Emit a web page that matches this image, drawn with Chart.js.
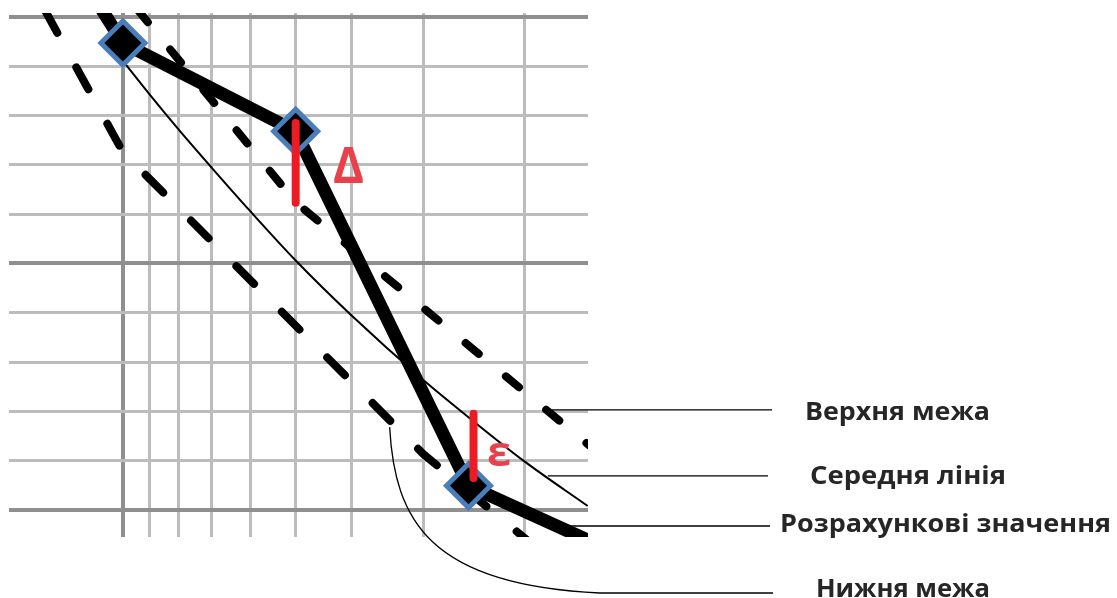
<!DOCTYPE html>
<html lang="uk">
<head>
<meta charset="UTF-8">
<title>Межі та розрахункові значення</title>
<script src="https://cdn.jsdelivr.net/npm/chart.js"></script>
<style>
    body { margin: 0; background: #fff; }
    canvas { display: block; }
</style>
</head>
<body>
<canvas id="chart" width="1117" height="598"></canvas>
<script>
// grid ticks (x axis is a reversed log scale)
const xTicks = [10, 9, 8, 7, 6, 5, 4, 3, 2];
const xMajor = [10];
const yTicks = [0, 1, 2, 3, 4, 5, 6, 7, 8, 9, 10];
const yMajor = [0, 5, 10];

// Розрахункові значення
const calcX = [11.44, 10, 5, 2.5, 1.36];
const calcY = [10.55, 9.47, 7.68, 0.49, -0.91];
const calcRadius = [0, 22, 22, 22, 0];

// Середня лінія
const midX = [10, 9, 8, 7, 6, 5, 4, 3, 2.5, 2, 1.55];
const midY = [9.11, 8.44, 7.72, 6.94, 6.06, 5.06, 3.95, 2.64, 1.88, 0.99, 0.08];

// Верхня межа
const upperX = [10, 5, 1.4];
const upperY = [10.51, 6.24, 0.91];

// Нижня межа
const lowerX = [15, 10, 3, 1.4];
const lowerY = [10.99, 7.26, 1.14, -2.06];

// deviations
const deltaX = [5, 5];
const deltaY = [7.85, 6.23];
const epsX = [2.45, 2.45];
const epsY = [1.95, 0.65];

const labelTexts = ['Верхня межа', 'Середня лінія', 'Розрахункові значення', 'Нижня межа'];
// where each leader line starts (data units)
const leaderX = [1.789, 1.818, 1.665, 3.43];
const leaderY = [2.03, 0.69, -0.325, 1.68];

function pts(xs, ys) {
    return xs.map((x, i) => ({ x: x, y: ys[i] }));
}

const RED = '#ed1c24';
const TEXT_RED = '#e8414a';

const annotations = {
    id: 'annotations',
    afterDraw(chart) {
        const ctx = chart.ctx;
        const xs = chart.scales.x, ys = chart.scales.y;
        const ends = [772, 768, 770, 773];
        const boxes = [
            { x: 805, base: 420, w: 185 },
            { x: 810, base: 484, w: 196 },
            { x: 780, base: 532, w: 331 },
            { x: 816, base: 597, w: 174 }
        ];
        ctx.save();
        ctx.strokeStyle = '#000';
        ctx.lineWidth = 1.3;
        for (let i = 0; i < 3; i++) {
            const px = xs.getPixelForValue(leaderX[i]);
            const py = ys.getPixelForValue(leaderY[i]);
            ctx.beginPath();
            ctx.moveTo(px, py);
            ctx.lineTo(ends[i], py);
            ctx.stroke();
        }
        // lower bound leader is a curve
        const lx = xs.getPixelForValue(leaderX[3]);
        const ly = ys.getPixelForValue(leaderY[3]);
        ctx.beginPath();
        ctx.moveTo(lx, ly);
        ctx.bezierCurveTo(lx + 5, ly + 93, lx + 40, ly + 158, lx + 210, 593);
        ctx.lineTo(ends[3], 593);
        ctx.stroke();

        ctx.fillStyle = '#262626';
        ctx.font = 'bold 25px "Open Sans", "Noto Sans", sans-serif';
        ctx.textBaseline = 'alphabetic';
        labelTexts.forEach((t, i) => {
            const b = boxes[i];
            const m = ctx.measureText(t).width;
            ctx.save();
            ctx.translate(b.x, b.base);
            ctx.scale(b.w / m, 1);
            ctx.fillText(t, 0, 0);
            ctx.restore();
        });

        // Δ and ε
        ctx.fillStyle = TEXT_RED;
        const greek = [
            { t: 'Δ', x: 333, base: 183, w: 31, size: 50 },
            { t: 'ε', x: 487, base: 466, w: 24, size: 42 }
        ];
        greek.forEach(g => {
            ctx.font = 'bold ' + g.size + 'px "Open Sans", "Noto Sans", sans-serif';
            const m = ctx.measureText(g.t).width;
            ctx.save();
            ctx.translate(g.x, g.base);
            ctx.scale(g.w / m, 1);
            ctx.fillText(g.t, 0, 0);
            ctx.restore();
        });
        ctx.restore();
    }
};

new Chart(document.getElementById('chart'), {
    type: 'line',
    data: {
        datasets: [
            {
                label: 'Δ',
                data: pts(deltaX, deltaY),
                borderColor: RED,
                borderWidth: 8,
                borderCapStyle: 'round',
                pointRadius: 0,
                clip: 0
            },
            {
                label: 'ε',
                data: pts(epsX, epsY),
                borderColor: RED,
                borderWidth: 8,
                borderCapStyle: 'round',
                pointRadius: 0,
                clip: 0
            },
            {
                label: 'Розрахункові значення',
                data: pts(calcX, calcY),
                borderColor: '#000',
                borderWidth: 13,
                borderJoinStyle: 'round',
                pointStyle: 'rectRot',
                pointRadius: calcRadius,
                pointBackgroundColor: '#000',
                pointBorderColor: '#4a7ebb',
                pointBorderWidth: 5,
                clip: 0
            },
            {
                label: 'Середня лінія',
                data: pts(midX, midY),
                borderColor: '#000',
                borderWidth: 2,
                cubicInterpolationMode: 'monotone',
                pointRadius: 0,
                clip: 0
            },
            {
                label: 'Верхня межа',
                data: pts(upperX, upperY),
                borderColor: '#000',
                borderWidth: 8,
                borderDash: [17, 35.3],
                borderDashOffset: 30,
                borderCapStyle: 'round',
                pointRadius: 0,
                clip: 0
            },
            {
                label: 'Нижня межа',
                data: pts(lowerX, lowerY),
                borderColor: '#000',
                borderWidth: 8,
                borderDash: [25, 39.4],
                borderDashOffset: 15.6,
                borderCapStyle: 'round',
                pointRadius: 0,
                clip: 0
            }
        ]
    },
    options: {
        responsive: false,
        animation: false,
        layout: { padding: { left: 9, right: 529, top: 13, bottom: 61 } },
        plugins: { legend: { display: false }, tooltip: { enabled: false } },
        scales: {
            x: {
                type: 'logarithmic',
                reverse: true,
                min: 1.548,
                max: 15.79,
                afterBuildTicks: s => { s.ticks = xTicks.map(v => ({ value: v })); },
                ticks: { display: false },
                border: { display: false },
                grid: {
                    drawTicks: false,
                    color: c => xMajor.includes(c.tick.value) ? '#8f8f8f' : '#bcbcbc',
                    lineWidth: c => xMajor.includes(c.tick.value) ? 4 : 3
                }
            },
            y: {
                type: 'linear',
                min: -0.548,
                max: 10.08,
                afterBuildTicks: s => { s.ticks = yTicks.map(v => ({ value: v })); },
                ticks: { display: false },
                border: { display: false },
                grid: {
                    drawTicks: false,
                    color: c => yMajor.includes(c.tick.value) ? '#8f8f8f' : '#bcbcbc',
                    lineWidth: c => yMajor.includes(c.tick.value) ? 4 : 3
                }
            }
        }
    },
    plugins: [annotations]
});
</script>
</body>
</html>
